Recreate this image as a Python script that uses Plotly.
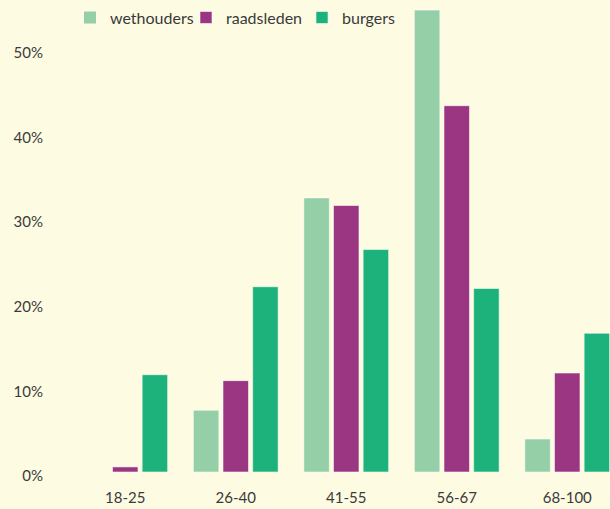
import plotly.graph_objects as go

# age groups on the x axis
leeftijd = ['18-25', '26-40', '41-55', '56-67', '68-100']

# share per age group, in percent
wethouders = [0, 7.3, 32.4, 54.6, 3.9]
raadsleden = [0.6, 10.8, 31.5, 43.3, 11.7]
burgers = [11.5, 21.9, 26.3, 21.7, 16.4]

y_ticks = [0, 10, 20, 30, 40, 50]
y_labels = ['0%', '10%', '20%', '30%', '40%', '50%']

bg = '#fefbe3'
font_family = 'Lato, Noto Sans, sans-serif'
text_color = '#3a3a3a'

fig = go.Figure()
for name, vals, color in [
    ('wethouders', wethouders, '#94cfa8'),
    ('raadsleden', raadsleden, '#9b3683'),
    ('burgers', burgers, '#1db27b'),
]:
    # no outline on empty bars, otherwise a thin line shows at zero
    line_w = [0 if v == 0 else 1 for v in vals]
    fig.add_trace(go.Bar(
        x=leeftijd, y=vals, name=name,
        marker=dict(color=color, line=dict(color='rgba(255,255,255,0.55)', width=line_w)),
    ))

fig.update_layout(
    width=610, height=509,
    paper_bgcolor=bg, plot_bgcolor=bg,
    margin=dict(l=70, r=0, t=2, b=37),
    barmode='group', bargap=0.195, bargroupgap=0.14,
    font=dict(family=font_family, size=15, color=text_color),
    showlegend=True,
    legend=dict(
        orientation='h', x=0, xanchor='left', y=1.003, yanchor='top',
        bgcolor='rgba(0,0,0,0)', font=dict(size=16),
        itemwidth=30, entrywidth=71,
    ),
    xaxis=dict(
        range=[-0.5, 4.387], showgrid=False, zeroline=False, showline=False,
        ticks='', ticklabelstandoff=15,
    ),
    yaxis=dict(
        range=[0, 55.56], tickvals=y_ticks, ticktext=y_labels,
        showgrid=False, zeroline=False, showline=False,
        ticks='', ticklabelstandoff=26, ticklabelshift=4,
    ),
)

# drop the page margin so the figure fills the window
fig.write_html('out.html', config={'displayModeBar': False},
               post_script="document.body.style.margin='0';")
